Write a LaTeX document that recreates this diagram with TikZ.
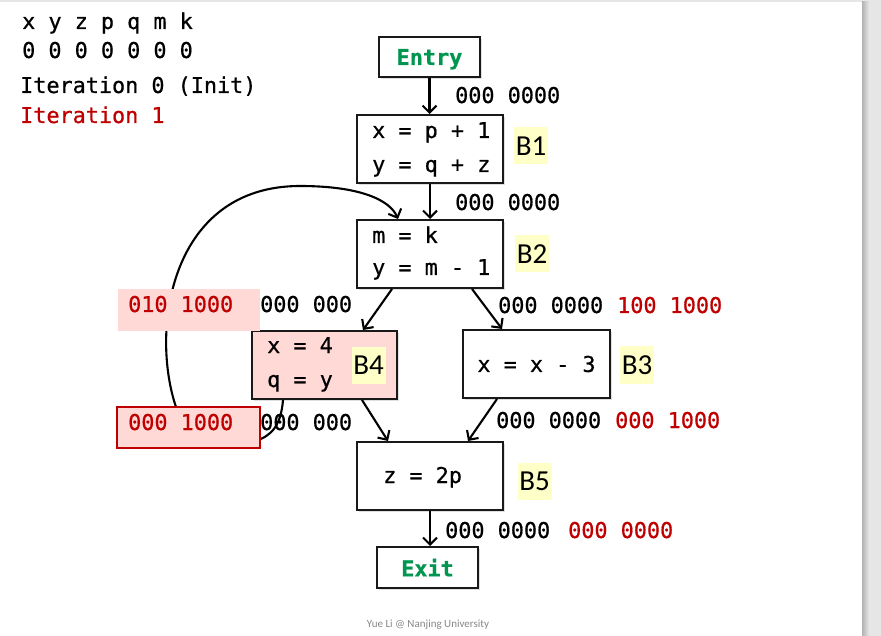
\documentclass[tikz,border=0pt]{standalone}
\usepackage{fontspec}
\setmonofont[RawFeature={embolden=0.7}]{DejaVu Sans Mono}
\newfontfamily\labfont{Carlito}
\usetikzlibrary{arrows.meta,shadows,calc}
\definecolor{cfgred}{RGB}{192,0,0}
\definecolor{cfgpink}{RGB}{255,217,214}
\definecolor{cfggreen}{RGB}{0,150,80}
\definecolor{cfgyellow}{RGB}{255,255,200}
\definecolor{slidegray}{RGB}{230,230,230}
\definecolor{footgray}{RGB}{135,135,135}
\begin{document}
\begin{tikzpicture}[x=1pt,y=-1pt,
  mono/.style={font=\ttfamily\fontsize{21.8}{26}\selectfont, inner sep=0pt, anchor=base west},
  redmono/.style={mono, text=cfgred},
  blockbox/.style={draw=black!90, line width=2pt, fill=white, inner sep=0pt,
     font=\ttfamily\fontsize{21.8}{26}\selectfont,
     drop shadow={shadow xshift=2pt, shadow yshift=-2pt, opacity=0.25}},
  termbox/.style={blockbox, font=\ttfamily\bfseries\fontsize{21.8}{26}\selectfont, text=cfggreen, text depth=0pt},
  blab/.style={fill=cfgyellow, inner sep=0pt, minimum width=34pt, minimum height=37pt,
     font=\labfont\fontsize{29}{32}\selectfont},
  arr/.style={line width=2.1pt, -{Straight Barb[length=7pt,width=14pt]}}
]
\useasboundingbox (0,0) rectangle (881,636);
% slide background
\fill[slidegray] (0,0) rectangle (881,636);
\shade[left color=black!30, right color=slidegray] (862,2) rectangle (869,636);
\fill[white] (0,2) rectangle (862,636);

% legend
\node[mono] (hdr) at (22,29) {x y z p q m k};
\node[mono] (zeros) at (22,58) {0 0 0 0 0 0 0};
\node[mono] (it0) at (20,93) {Iteration 0 (Init)};
\node[redmono] (it1) at (20,123) {Iteration 1};

% blocks
\node[termbox, minimum width=101pt, minimum height=40pt] (entry) at (429.5,57) {Entry};
\node[blockbox, minimum width=146pt, minimum height=68pt] (b1) at (430,149) {};
\node[blockbox, minimum width=146pt, minimum height=68pt] (b2) at (430,254) {};
\node[blockbox, fill=cfgpink, minimum width=145pt, minimum height=68pt] (b4) at (324.5,365) {};
\node[blockbox, minimum width=147pt, minimum height=68pt] (b3) at (536.5,364) {x = x - 3};
\node[blockbox, minimum width=146pt, minimum height=68pt] (b5) at (430,476) {};
\node[termbox, minimum width=101pt, minimum height=41pt] (exit) at (427.5,567.5) {Exit};

% block contents
\node[mono] (b1l1) at (372,138) {x = p + 1};
\node[mono] (b1l2) at (372,172) {y = q + z};
\node[mono] (b2l1) at (372,243) {m = k};
\node[mono] (b2l2) at (372,275) {y = m - 1};
\node[mono] (b4l1) at (267,353) {x = 4};
\node[mono] (b4l2) at (267,387) {q = y};
\node[mono] (b5l1) at (383,483) {z = 2p};

% block labels
\node[blab] (lb1) at (531,146) {B1};
\node[blab] (lb2) at (532,254) {B2};
\node[blab] (lb3) at (637,365) {B3};
\node[blab] (lb4) at (368.5,365.5) {B4};
\node[blab] (lb5) at (534.5,481) {B5};

% edges
\draw[arr] (entry.south) -- (entry.south |- b1.north);
\draw[arr] (b1.south) -- (b1.south |- b2.north);
\draw[arr] ([xshift=-38pt]b2.south) -- ([xshift=38.5pt]b4.north);
\draw[arr] ([xshift=42pt]b2.south) -- ([xshift=-34.5pt]b3.north);
\draw[arr] ([xshift=37.5pt]b4.south) -- ([xshift=-42pt]b5.north);
\draw[arr] ([xshift=-39.5pt]b3.south) -- ([xshift=38pt]b5.north);
\draw[arr] (b5.south) -- (b5.south |- exit.north);
% back edge B4 -> B2
\draw[arr] ([xshift=-41.5pt]b4.south) .. controls (281,425) and (272,436) .. (255,441)
   .. controls (215,446) and (186,438) .. (176,407)
   .. controls (150,330) and (170,186) .. (300,186)
   .. controls (360,186) and (390,200) .. ([xshift=-32pt]b2.north);

% highlighted value boxes (drawn over the back edge)
\node[fill=cfgpink, minimum width=142pt, minimum height=42pt, inner sep=0pt] (pinkv) at (189,310) {};
\node[draw=cfgred, line width=1.8pt, fill=cfgpink, minimum width=143pt, minimum height=41pt, inner sep=0pt] (redv) at (188.5,427.5) {};

% data-flow values
\node[mono] (v1) at (455,103) {000 0000};
\node[mono] (v2) at (455,210) {000 0000};
\node[redmono] (v3r) at (128,312) {010 1000};
\node[mono] (v3) at (260,312) {000 000};
\node[mono] (v4) at (498,313) {000 0000};
\node[redmono] (v4r) at (617,313) {100 1000};
\node[redmono] (v5r) at (128,430) {000 1000};
\node[mono] (v5) at (260,430) {000 000};
\node[mono] (v6) at (496,428) {000 0000};
\node[redmono] (v6r) at (615,428) {000 1000};
\node[mono] (v7) at (445,538) {000 0000};
\node[redmono] (v7r) at (568,538) {000 0000};

% footer
\node[font=\labfont\fontsize{11}{13}\selectfont, text=footgray, inner sep=0pt, anchor=base] (foot) at (428,627) {Yue Li @ Nanjing University};
\end{tikzpicture}
\end{document}
